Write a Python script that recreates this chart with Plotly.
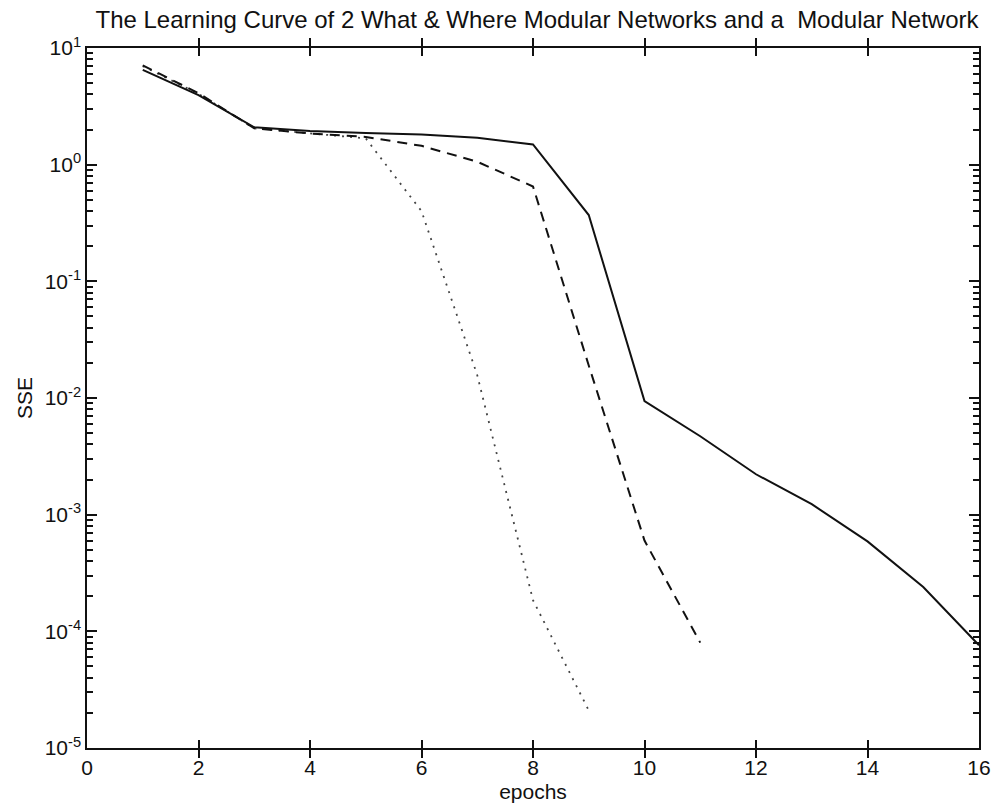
import plotly.graph_objects as go

epochs_solid = list(range(1, 17))
sse_solid = [6.5, 3.95, 2.09, 1.94, 1.87, 1.81, 1.70, 1.49, 0.37, 0.0094,
             0.0047, 0.00222, 0.00123, 0.00059, 0.00024, 7.6e-5]

epochs_dashed = list(range(1, 12))
sse_dashed = [7.1, 4.1, 2.05, 1.85, 1.73, 1.45, 1.06, 0.65, 0.019, 0.0006, 8e-5]

epochs_dotted = list(range(1, 10))
sse_dotted = [7.0, 4.05, 2.05, 1.85, 1.68, 0.40, 0.0157, 0.000185, 2.1e-5]

x_ticks = [0, 2, 4, 6, 8, 10, 12, 14, 16]
y_exponents = [-5, -4, -3, -2, -1, 0, 1]
y_tickvals = [10.0 ** e for e in y_exponents]
y_ticktext = ["10<sup>%d</sup>" % e for e in y_exponents]
y_minor = [m * 10.0 ** e for e in y_exponents[:-1] for m in range(2, 10)]

title_text = "The Learning Curve of 2 What &amp; Where Modular Networks and a  Modular Network"

fig = go.Figure()
fig.add_trace(go.Scatter(x=epochs_dotted, y=sse_dotted, mode="lines",
                         line=dict(color="#444444", width=1.8, dash="2px,6px"),
                         showlegend=False))
fig.add_trace(go.Scatter(x=epochs_dashed, y=sse_dashed, mode="lines",
                         line=dict(color="#111111", width=2, dash="10px,7px"),
                         showlegend=False))
fig.add_trace(go.Scatter(x=epochs_solid, y=sse_solid, mode="lines",
                         line=dict(color="#111111", width=2),
                         showlegend=False))
# invisible helper trace so the minor-tick axis is drawn
fig.add_trace(go.Scatter(x=epochs_solid, y=sse_solid, mode="lines",
                         xaxis="x", yaxis="y2",
                         line=dict(color="rgba(0,0,0,0)", width=0),
                         hoverinfo="skip", showlegend=False))

font_family = "Liberation Sans, Arial, Helvetica, sans-serif"

fig.update_layout(
    width=1003, height=812,
    margin=dict(l=87, r=16, t=48, b=60),
    paper_bgcolor="white", plot_bgcolor="white",
    font=dict(family=font_family, color="#111111", size=21),
    title=dict(text=title_text, x=537/1003, xanchor="center",
               y=1 - 20/812, yanchor="middle", yref="container",
               font=dict(size=24, family=font_family, color="#111111")),
    yaxis2=dict(type="log", range=[-5, 1], overlaying="y", anchor="x", side="left",
                tickmode="array", tickvals=y_minor, showticklabels=False,
                ticks="inside", ticklen=6, tickwidth=1.5, tickcolor="#111111",
                showline=True, linecolor="#111111", linewidth=1.5,
                mirror="allticks", showgrid=False, zeroline=False),
)

fig.update_xaxes(
    range=[0, 16], tickvals=x_ticks, ticktext=[str(v) for v in x_ticks],
    ticks="inside", ticklen=8, tickwidth=1.5, tickcolor="#111111",
    showline=True, linecolor="#111111", linewidth=1.5, mirror="allticks",
    showgrid=False, zeroline=False,
    title=dict(text="epochs", standoff=6, font=dict(size=21)),
    tickfont=dict(size=21),
)

fig.update_layout(yaxis=dict(
    type="log", range=[-5, 1], tickvals=y_tickvals, ticktext=y_ticktext,
    ticks="inside", ticklen=10, tickwidth=1.5, tickcolor="#111111",
    showline=True, linecolor="#111111", linewidth=1.5, mirror="allticks",
    showgrid=False, zeroline=False,
    title=dict(text="SSE", standoff=6, font=dict(size=21)),
    tickfont=dict(size=21),
))

fig.write_html("out.html")
